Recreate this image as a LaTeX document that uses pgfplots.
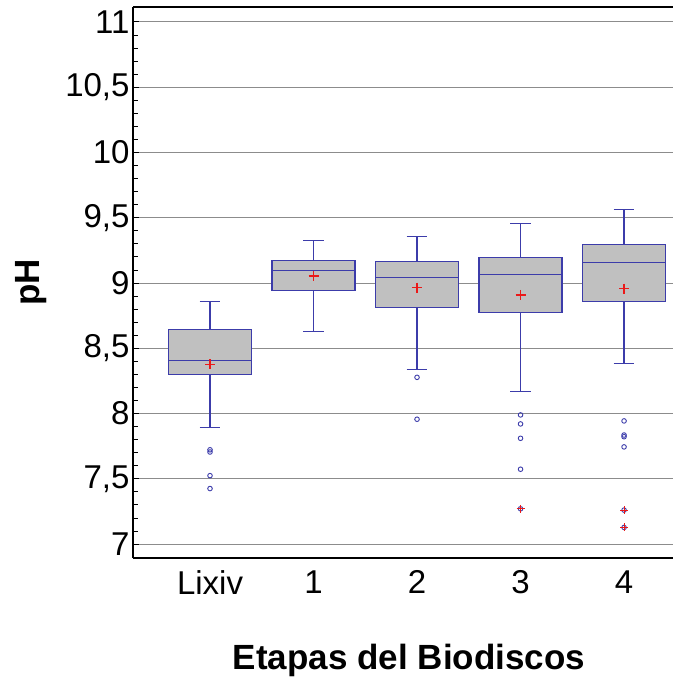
\documentclass[border=0pt]{standalone}
\usepackage{pgfplots}
\pgfplotsset{compat=1.18}
\usepackage{fontspec}
\setmainfont{Liberation Sans}

\definecolor{boxblue}{RGB}{60,60,170}
\definecolor{boxgray}{RGB}{192,192,192}
\definecolor{meanred}{RGB}{235,25,25}

\pgfplotsset{
  box/.style={draw=boxblue, fill=boxgray, line width=1.3bp, mark=none, line join=miter},
  wsk/.style={draw=boxblue, line width=1.3bp, mark=none, unbounded coords=jump},
}

\begin{document}
\begin{tikzpicture}
\begin{axis}[
  name=ax,
  scale only axis,
  width=540bp, height=551bp,
  xmin=-0.744, xmax=4.473,
  ymin=6.893, ymax=11.114,
  axis x line*=bottom, axis y line*=left,
  axis line style={black, line width=1.3bp},
  xtick={0,1,2,3,4},
  xticklabels={Lixiv,1,2,3,4},
  xtick style={draw=none},
  ytick={7,7.5,...,11},
  minor y tick num=4,
  tick align=inside,
  major tick length=6bp, minor tick length=5bp,
  ytick style={black, line width=0.8bp},
  ymajorgrids,
  grid style={black!45, line width=0.9bp},
  /pgf/number format/assume math mode=true,
  /pgf/number format/use comma,
  tick label style={font=\fontsize{33bp}{36bp}\selectfont},
  xticklabel style={yshift=-9bp},
  every axis y label/.style={at={(rel axis cs:0,0.5)}, anchor=center, rotate=90, yshift=101.5bp},
  every axis x label/.style={at={(rel axis cs:0.5,0)}, anchor=base, yshift=-111bp, xshift=6bp},
  label style={font=\fontsize{35bp}{38bp}\selectfont\bfseries},
  ylabel={pH},
  xlabel={Etapas del Biodiscos},
  clip=false,
]
% whiskers (lower whisker, upper whisker, caps)
\addplot[wsk] coordinates {
  (0,8.300)(0,7.894) (nan,nan) (-0.1,7.894)(0.1,7.894) (nan,nan)
  (0,8.644)(0,8.860) (nan,nan) (-0.1,8.860)(0.1,8.860) (nan,nan)
  (1,8.944)(1,8.628) (nan,nan) (0.9,8.628)(1.1,8.628) (nan,nan)
  (1,9.171)(1,9.326) (nan,nan) (0.9,9.326)(1.1,9.326) (nan,nan)
  (2,8.812)(2,8.338) (nan,nan) (1.9,8.338)(2.1,8.338) (nan,nan)
  (2,9.166)(2,9.355) (nan,nan) (1.9,9.355)(2.1,9.355) (nan,nan)
  (3,8.776)(3,8.167) (nan,nan) (2.9,8.167)(3.1,8.167) (nan,nan)
  (3,9.196)(3,9.454) (nan,nan) (2.9,9.454)(3.1,9.454) (nan,nan)
  (4,8.860)(4,8.381) (nan,nan) (3.9,8.381)(4.1,8.381) (nan,nan)
  (4,9.296)(4,9.561) (nan,nan) (3.9,9.561)(4.1,9.561)
};

% boxes: lower quartile to upper quartile
\addplot[box] coordinates {(-0.4,8.300)(0.4,8.300)(0.4,8.644)(-0.4,8.644)} -- cycle;
\addplot[box] coordinates {(0.6,8.944)(1.4,8.944)(1.4,9.171)(0.6,9.171)} -- cycle;
\addplot[box] coordinates {(1.6,8.812)(2.4,8.812)(2.4,9.166)(1.6,9.166)} -- cycle;
\addplot[box] coordinates {(2.6,8.776)(3.4,8.776)(3.4,9.196)(2.6,9.196)} -- cycle;
\addplot[box] coordinates {(3.6,8.860)(4.4,8.860)(4.4,9.296)(3.6,9.296)} -- cycle;

% medians
\addplot[wsk] coordinates {
  (-0.4,8.407)(0.4,8.407) (nan,nan)
  (0.6,9.095)(1.4,9.095) (nan,nan)
  (1.6,9.041)(2.4,9.041) (nan,nan)
  (2.6,9.064)(3.4,9.064) (nan,nan)
  (3.6,9.158)(4.4,9.158)
};

% means
\addplot[only marks, mark=+, mark size=5bp, draw=meanred, mark options={solid, draw=meanred, line width=1.3bp}]
  coordinates {(0,8.378)(1,9.053)(2,8.965)(3,8.908)(4,8.957)};

% outliers
\addplot[only marks, mark=o, mark size=2.3bp, draw=boxblue, mark options={solid, draw=boxblue, line width=0.9bp}]
  coordinates {
    (0,7.722)(0,7.705)(0,7.524)(0,7.425)
    (2,8.277)(2,7.956)
    (3,7.989)(3,7.920)(3,7.810)(3,7.573)(3,7.270)
    (4,7.943)(4,7.835)(4,7.822)(4,7.744)(4,7.260)(4,7.127)
  };
% far outliers
\addplot[only marks, mark=+, mark size=4bp, draw=meanred, mark options={solid, draw=meanred, line width=1bp}]
  coordinates {(3,7.270)(4,7.260)(4,7.127)};

\draw[black, line width=1.3bp] (rel axis cs:0,1) -- (rel axis cs:1,1);
\end{axis}
\pgfresetboundingbox
\path[use as bounding box] ([xshift=-133bp,yshift=-121bp]ax.south west) rectangle ([yshift=7bp]ax.north east);
\end{tikzpicture}
\end{document}
